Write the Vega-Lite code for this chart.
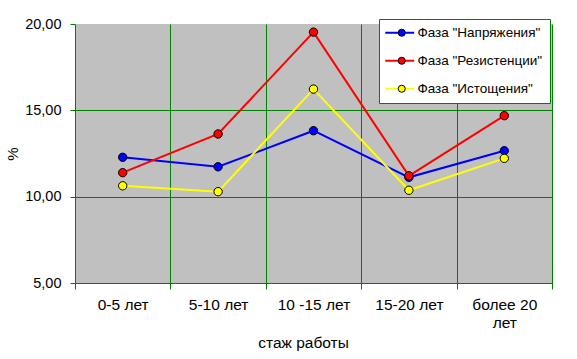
{
  "$schema": "https://vega.github.io/schema/vega-lite/v6.json",
  "width": 477,
  "height": 259,
  "autosize": "none",
  "padding": {"left": 75, "top": 24, "right": 25, "bottom": 76},
  "background": "white",
  "config": {
    "view": {"fill": "#C0C0C0", "stroke": null},
    "font": "Liberation Sans"
  },
  "data": {
    "values": [
      {"series": "Фаза \"Напряжения\"", "cat": "0-5 лет", "value": 12.28},
      {"series": "Фаза \"Напряжения\"", "cat": "5-10 лет", "value": 11.73},
      {"series": "Фаза \"Напряжения\"", "cat": "10 -15 лет", "value": 13.82},
      {"series": "Фаза \"Напряжения\"", "cat": "15-20 лет", "value": 11.12},
      {"series": "Фаза \"Напряжения\"", "cat": "более 20 лет", "value": 12.66},
      {"series": "Фаза \"Резистенции\"", "cat": "0-5 лет", "value": 11.39},
      {"series": "Фаза \"Резистенции\"", "cat": "5-10 лет", "value": 13.63},
      {"series": "Фаза \"Резистенции\"", "cat": "10 -15 лет", "value": 19.53},
      {"series": "Фаза \"Резистенции\"", "cat": "15-20 лет", "value": 11.21},
      {"series": "Фаза \"Резистенции\"", "cat": "более 20 лет", "value": 14.69},
      {"series": "Фаза \"Истощения\"", "cat": "0-5 лет", "value": 10.63},
      {"series": "Фаза \"Истощения\"", "cat": "5-10 лет", "value": 10.29},
      {"series": "Фаза \"Истощения\"", "cat": "10 -15 лет", "value": 16.23},
      {"series": "Фаза \"Истощения\"", "cat": "15-20 лет", "value": 10.37},
      {"series": "Фаза \"Истощения\"", "cat": "более 20 лет", "value": 12.22}
    ]
  },
  "encoding": {
    "x": {
      "field": "cat",
      "type": "nominal",
      "bandPosition": 0.5,
      "sort": ["0-5 лет", "5-10 лет", "10 -15 лет", "15-20 лет", "более 20 лет"],
      "scale": {"type": "band", "paddingInner": 0, "paddingOuter": 0},
      "axis": {
        "title": "стаж работы",
        "titleFontSize": 15.5,
        "titleFontWeight": "normal",
        "titleColor": "black",
        "titlePadding": 5,
        "titleX": 228,
        "titleAnchor": "middle",
        "tickBand": "extent",
        "grid": true,
        "gridColor": "#008000",
        "gridOpacity": {"condition": {"test": "datum.extra", "value": 0}, "value": 1},
        "gridWidth": 1,
        "domainColor": "#008000",
        "domainWidth": 1,
        "tickColor": "#008000",
        "tickSize": 6,
        "labelAngle": 0,
        "labelColor": "black",
        "labelFontSize": 15.5,
        "labelPadding": 8,
        "labelLineHeight": 18,
        "labelExpr": "datum.label == 'более 20 лет' ? ['более 20', 'лет'] : datum.label"
      }
    },
    "y": {
      "field": "value",
      "type": "quantitative",
      "scale": {"domain": [5, 20], "nice": false, "zero": false},
      "axis": {
        "title": "%",
        "titleFontSize": 15,
        "titleFontWeight": "normal",
        "titleColor": "black",
        "titlePadding": 4,
        "values": [5, 10, 15, 20],
        "grid": true,
        "gridColor": "#008000",
        "gridOpacity": {"condition": {"test": "datum.value == 20", "value": 0}, "value": 1},
        "domainColor": "#008000",
        "tickColor": "#008000",
        "tickSize": 5,
        "labelColor": "black",
        "labelFontSize": 14.5,
        "labelPadding": 9,
        "labelExpr": "replace(format(datum.value, '.2f'), '.', ',')"
      }
    }
  },
  "layer": [
    {
      "mark": {"type": "line", "strokeWidth": 2},
      "encoding": {
        "stroke": {
          "field": "series",
          "type": "nominal",
          "scale": {
            "domain": ["Фаза \"Напряжения\"", "Фаза \"Резистенции\"", "Фаза \"Истощения\""],
            "range": ["#0000FF", "#FF0000", "#FFFF00"]
          },
          "legend": {
            "orient": "none",
            "legendX": 304,
            "legendY": -5,
            "title": null,
            "fillColor": "white",
            "strokeColor": "#008000",
            "padding": 7,
            "cornerRadius": 0,
            "symbolType": "M-1.36,0H3.9",
            "symbolSize": 121,
            "symbolStrokeWidth": 2,
            "labelFontSize": 13.5,
            "labelColor": "black",
            "labelOffset": 18,
            "rowPadding": 13,
            "labelLimit": 300
          }
        }
      }
    },
    {
      "mark": {"type": "point", "filled": true, "size": 70, "stroke": "black", "strokeWidth": 1, "opacity": 1},
      "encoding": {
        "fill": {
          "field": "series",
          "type": "nominal",
          "sort": ["Фаза \"Напряжения\"", "Фаза \"Резистенции\"", "Фаза \"Истощения\""],
          "scale": {
            "range": ["#0000FF", "#FF0000", "#FFFF00"]
          },
          "legend": {
            "orient": "none",
            "legendX": 313,
            "legendY": -5,
            "title": null,
            "padding": 7,
            "symbolType": "circle",
            "symbolSize": 50,
            "symbolStrokeColor": "black",
            "symbolStrokeWidth": 1,
            "symbolOpacity": 1,
            "labelFontSize": 13.5,
            "labelExpr": "''",
            "rowPadding": 13,
            "labelLimit": 300
          }
        }
      }
    }
  ]
}
